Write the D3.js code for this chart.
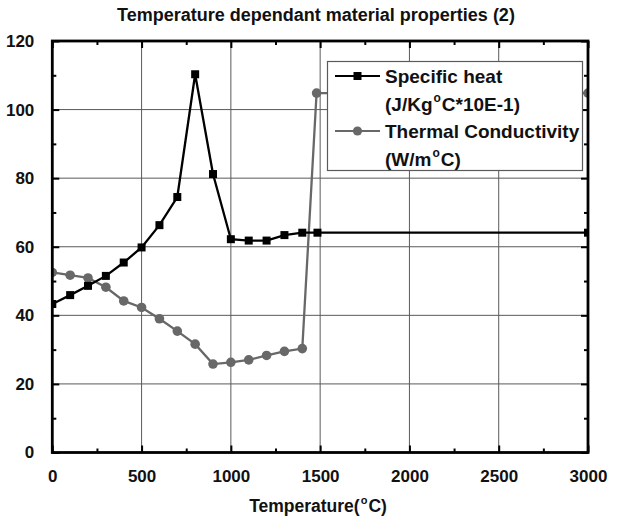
<!DOCTYPE html>
<html>
<head>
<meta charset="utf-8">
<script src="https://cdn.jsdelivr.net/npm/d3@7/dist/d3.min.js"></script>
<style>
  html, body { margin: 0; padding: 0; background: #fff; }
  svg { display: block; font-family: "Liberation Sans", Arial, sans-serif; font-weight: bold; }
</style>
</head>
<body>
<svg id="chart" width="621" height="524"></svg>
<script>
// ---- data ----
const heatTemps = [0, 100, 200, 300, 400, 500, 600, 700, 800, 900, 1000, 1100, 1200, 1300, 1400, 1485, 3000];
const heatValues = [43.3, 45.9, 48.6, 51.5, 55.4, 59.8, 66.3, 74.5, 110.3, 81.2, 62.2, 61.8, 61.8, 63.4, 64.1, 64.1, 64.1];
const condTemps = [0, 100, 200, 300, 400, 500, 600, 700, 800, 900, 1000, 1100, 1200, 1300, 1400, 1480, 3000];
const condValues = [52.5, 51.7, 50.9, 48.2, 44.2, 42.3, 39.0, 35.4, 31.6, 25.8, 26.3, 27.0, 28.3, 29.5, 30.3, 104.8, 104.8];
const xTicks = [0, 500, 1000, 1500, 2000, 2500, 3000];
const xMinorTicks = [250, 750, 1250, 1750, 2250, 2750];
const yTicks = [0, 20, 40, 60, 80, 100, 120];
const yMinorTicks = [10, 30, 50, 70, 90, 110];
const titleText = "Temperature dependant material properties (2)";
const xTitle = ["Temperature(", "o", "C)"];
const legendLines = [
  [["Specific heat", false]],
  [["(J/Kg", false], ["o", true], ["C*10E-1)", false]],
  [["Thermal Conductivity", false]],
  [["(W/m", false], ["o", true], ["C)", false]]
];

// ---- layout ----
const L = 52.3, R = 588, T = 41, B = 452.5;
const svg = d3.select("#chart");
const x = d3.scaleLinear().domain([0, 3000]).range([L, R]);
const y = d3.scaleLinear().domain([0, 120]).range([B, T]);
const W = R - L, H = B - T;

svg.append("defs").append("clipPath").attr("id", "clip")
  .append("rect").attr("x", L).attr("y", T).attr("width", W).attr("height", H);

// gridlines
const grid = svg.append("g").attr("class", "grid");
grid.selectAll("line.gx").data(xTicks.slice(1, -1)).join("line")
  .attr("x1", d => x(d)).attr("x2", d => x(d)).attr("y1", T).attr("y2", B)
  .attr("stroke", "#5a5a5a").attr("stroke-width", 1);
grid.selectAll("line.gy").data(yTicks.slice(1, -1)).join("line")
  .attr("x1", L).attr("x2", R).attr("y1", d => y(d)).attr("y2", d => y(d))
  .attr("stroke", "#5a5a5a").attr("stroke-width", 1);

// axes (inward ticks on all sides)
function styleAxis(g) {
  g.select(".domain").remove();
  g.selectAll(".tick line").attr("stroke", "#000").attr("stroke-width", 2);
}
const tickFont = 17;
const bottom = svg.append("g").attr("transform", `translate(0,${B})`)
  .call(d3.axisBottom(x).tickValues(xTicks).tickSizeInner(-7).tickSizeOuter(0).tickPadding(17).tickFormat(d3.format("d")));
styleAxis(bottom);
bottom.selectAll("text").attr("font-size", tickFont).attr("font-weight", "bold").attr("fill", "#111")
  .attr("font-family", "Liberation Sans, Arial, sans-serif");
svg.append("g").attr("transform", `translate(0,${B})`)
  .call(d3.axisBottom(x).tickValues(xMinorTicks).tickSizeInner(-4).tickSizeOuter(0).tickFormat(""))
  .call(styleAxis);
svg.append("g").attr("transform", `translate(0,${T})`)
  .call(d3.axisTop(x).tickValues(xTicks).tickSizeInner(-7).tickSizeOuter(0).tickFormat(""))
  .call(styleAxis);
svg.append("g").attr("transform", `translate(0,${T})`)
  .call(d3.axisTop(x).tickValues(xMinorTicks).tickSizeInner(-4).tickSizeOuter(0).tickFormat(""))
  .call(styleAxis);

const left = svg.append("g").attr("transform", `translate(${L},0)`)
  .call(d3.axisLeft(y).tickValues(yTicks).tickSizeInner(-7).tickSizeOuter(0).tickPadding(18).tickFormat(d3.format("d")));
styleAxis(left);
left.selectAll("text").attr("font-size", tickFont).attr("font-weight", "bold").attr("fill", "#111")
  .attr("font-family", "Liberation Sans, Arial, sans-serif");
svg.append("g").attr("transform", `translate(${L},0)`)
  .call(d3.axisLeft(y).tickValues(yMinorTicks).tickSizeInner(-4).tickSizeOuter(0).tickFormat(""))
  .call(styleAxis);
svg.append("g").attr("transform", `translate(${R},0)`)
  .call(d3.axisRight(y).tickValues(yTicks).tickSizeInner(-7).tickSizeOuter(0).tickFormat(""))
  .call(styleAxis);
svg.append("g").attr("transform", `translate(${R},0)`)
  .call(d3.axisRight(y).tickValues(yMinorTicks).tickSizeInner(-4).tickSizeOuter(0).tickFormat(""))
  .call(styleAxis);

// series
const plot = svg.append("g").attr("clip-path", "url(#clip)");
const heat = heatTemps.map((t, i) => ({ t, v: heatValues[i] }));
const cond = condTemps.map((t, i) => ({ t, v: condValues[i] }));
const line = d3.line().x(d => x(d.t)).y(d => y(d.v));
const grayC = "#686868";

plot.append("path").datum(cond).attr("d", line)
  .attr("fill", "none").attr("stroke", grayC).attr("stroke-width", 2.3);
plot.selectAll("circle.c").data(cond).join("circle")
  .attr("cx", d => x(d.t)).attr("cy", d => y(d.v)).attr("r", 4.8).attr("fill", grayC);

plot.append("path").datum(heat).attr("d", line)
  .attr("fill", "none").attr("stroke", "#000").attr("stroke-width", 2.3);
const sq = 8;
plot.selectAll("rect.h").data(heat).join("rect")
  .attr("x", d => x(d.t) - sq / 2).attr("y", d => y(d.v) - sq / 2)
  .attr("width", sq).attr("height", sq).attr("fill", "#000");

// frame
svg.append("rect").attr("x", L).attr("y", T).attr("width", W).attr("height", H)
  .attr("fill", "none").attr("stroke", "#000").attr("stroke-width", 2.8);

// legend
const lg = svg.append("g");
const lx = 327.5, ly = 61.5, lw = 255, lh = 109;
lg.append("rect").attr("x", lx).attr("y", ly).attr("width", lw).attr("height", lh)
  .attr("fill", "#fff").attr("stroke", "#5a5a5a").attr("stroke-width", 1.2);
const lineYs = [76, 104, 131, 159];
lg.append("line").attr("x1", 335).attr("x2", 380).attr("y1", lineYs[0]).attr("y2", lineYs[0])
  .attr("stroke", "#000").attr("stroke-width", 2);
lg.append("rect").attr("x", 357.5 - sq / 2).attr("y", lineYs[0] - sq / 2).attr("width", sq).attr("height", sq).attr("fill", "#000");
lg.append("line").attr("x1", 335).attr("x2", 380).attr("y1", lineYs[2]).attr("y2", lineYs[2])
  .attr("stroke", grayC).attr("stroke-width", 2);
lg.append("circle").attr("cx", 357.5).attr("cy", lineYs[2]).attr("r", 4.6).attr("fill", grayC);

legendLines.forEach((parts, i) => {
  const t = lg.append("text").attr("x", 385).attr("y", lineYs[i] + 7).attr("font-size", 19)
    .attr("font-weight", "bold").attr("fill", "#111").attr("textLength", null);
  parts.forEach(([s, sup]) => {
    const ts = t.append("tspan").text(s);
    if (sup) ts.attr("font-size", 12).attr("dy", -9).attr("dx", 1);
    else if (i % 2 === 1 && s !== parts[0][0]) ts.attr("dy", 9).attr("dx", 1);
  });
});

// title
svg.append("text").attr("x", 316).attr("y", 21).attr("text-anchor", "middle")
  .attr("font-size", 18).attr("font-weight", "bold").attr("fill", "#111").text(titleText);

// x axis title
const xt = svg.append("text").attr("x", 318).attr("y", 512).attr("text-anchor", "middle")
  .attr("font-size", 17.5).attr("font-weight", "bold").attr("fill", "#111");
xt.append("tspan").text(xTitle[0]);
xt.append("tspan").text(xTitle[1]).attr("font-size", 11).attr("dy", -8).attr("dx", 1);
xt.append("tspan").text(xTitle[2]).attr("dy", 8).attr("dx", 1);
</script>
</body>
</html>
